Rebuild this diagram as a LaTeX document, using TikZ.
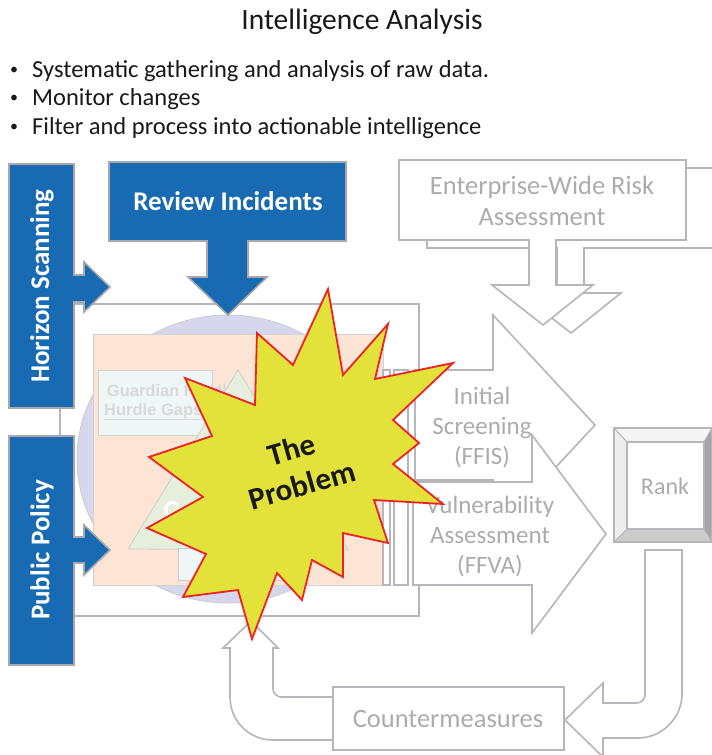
\documentclass[tikz,border=0pt]{standalone}
\usepackage{fontspec}
\setmainfont{Carlito}
\newfontfamily\arialf{Liberation Sans}
\definecolor{iblue}{RGB}{24,106,178}
\definecolor{bgray}{RGB}{168,168,172}
\definecolor{lgray}{RGB}{182,182,186}
\definecolor{tgray}{RGB}{172,172,176}
\definecolor{lav}{RGB}{214,215,236}
\definecolor{peach}{RGB}{253,229,214}
\definecolor{lcyan}{RGB}{238,246,246}
\definecolor{lgreen}{RGB}{230,239,220}
\definecolor{star}{RGB}{226,226,58}
\definecolor{sred}{RGB}{236,34,39}
\begin{document}
\begin{tikzpicture}[x=1pt,y=-1pt,line join=miter,
  graybox/.style={draw=lgray,line width=1.6pt,fill=white},
  bluebox/.style={draw=bgray,line width=1.6pt,fill=iblue},
  btext/.style={text=white,font=\bfseries\fontsize{27}{31}\selectfont},
  gtext/.style={text=tgray,font=\fontsize{26.5}{31}\selectfont,align=center},
  bullet/.style={anchor=west,font=\fontsize{24.5}{28}\selectfont,text=black!90,inner sep=0pt},
  bdot/.style={font=\fontsize{16}{18}\selectfont,text=black!90,inner sep=0pt}]
\useasboundingbox (0,0) rectangle (712,755);
\fill[white] (0,0) rectangle (712,755);

% title and bullets
\node[font=\fontsize{29.5}{33}\selectfont,text=black!90] (title) at (362,22) {Intelligence Analysis};
\node[bdot] (b1d) at (14,71) {•};
\node[bullet] (b1) at (32,71) {Systematic gathering and analysis of raw data.};
\node[bdot] (b2d) at (14,99) {•};
\node[bullet] (b2) at (32,99) {Monitor changes};
\node[bdot] (b3d) at (14,128) {•};
\node[bullet] (b3) at (32,128) {Filter and process into actionable intelligence};

% central frame
\draw[lgray,line width=1.6pt] (60,304) rectangle (419,616);
\draw[draw=lgray!70,fill=lav,line width=0.8pt] (228,459) ellipse [x radius=151,y radius=144];
\draw[draw=lgray!60,fill=peach,line width=0.8pt] (93,334) rectangle (383,585);
\draw[draw=lgray!60,fill=lcyan,line width=0.8pt] (98,370) rectangle (212,435);
\node[font=\arialf\bfseries\fontsize{16.5}{19}\selectfont,text=black!15,anchor=north west,align=left,inner sep=0pt] (guard) at (104,384) {\,Guardian Hurdle\\Hurdle Gaps};
\draw[lgray!50,line width=0.6pt] (104,419) -- (205,419);
\draw[draw=lgray!70,fill=lgreen,line width=0.8pt] (238,370) -- (348,550) -- (128,549) -- cycle;
\node[font=\arialf\bfseries\fontsize{24}{26}\selectfont,text=white] (cee) at (172,510) {C};
\draw[draw=lgray!70,fill=lcyan,line width=0.8pt] (178,548) rectangle (300,580);

% strips
\draw[graybox,line width=1.2pt] (383,370) rectangle (390,585);
\draw[graybox,line width=1.2pt] (394,370) rectangle (408,585);

% FFIS and FFVA arrows
\draw[graybox] (415,370) -- (493,370) -- (493,315) -- (595,425) -- (493,535) -- (493,480) -- (415,480) -- cycle;
\node[gtext,font=\fontsize{25}{30}\selectfont] (ffis) at (482,428) {Initial\\Screening\\(FFIS)};
\draw[graybox] (413,482) -- (532,482) -- (532,435) -- (606,534) -- (532,633) -- (532,585) -- (413,585) -- cycle;
\node[gtext,font=\fontsize{25}{30}\selectfont] (ffva) at (490,537) {Vulnerability\\Assessment\\(FFVA)};

% Enterprise-wide risk assessment
\begin{scope}[shift={(28,8)}]
\draw[graybox] (399,160) -- (686,160) -- (686,240) -- (556,240) -- (556,285) -- (593,285) -- (543,325) -- (492,285) -- (529,285) -- (529,240) -- (399,240) -- cycle;
\end{scope}
\draw[graybox] (399,160) -- (686,160) -- (686,240) -- (556,240) -- (556,285) -- (593,285) -- (543,325) -- (492,285) -- (529,285) -- (529,240) -- (399,240) -- cycle;
\node[gtext] (era) at (542,201) {Enterprise-Wide Risk\\Assessment};

% Rank
\fill[white!96!black] (614,428) -- (712,428) -- (704,442) -- (627,442) -- cycle;
\fill[white!93!black] (614,428) -- (627,442) -- (627,529) -- (614,542) -- cycle;
\fill[black!35] (712,428) -- (712,542) -- (704,529) -- (704,442) -- cycle;
\fill[black!20] (614,542) -- (712,542) -- (704,529) -- (627,529) -- cycle;
\draw[lgray,line width=1.4pt] (614,428) rectangle (712,542);
\draw[lgray,line width=1.2pt] (627,442) rectangle (704,529);
\draw[lgray,line width=1pt] (614,428) -- (627,442) (712,428) -- (704,442) (712,542) -- (704,529) (614,542) -- (627,529);
\node[gtext,font=\fontsize{24}{28}\selectfont] (rank) at (665,486) {Rank};

% Rank -> Countermeasures
\draw[graybox] (645,550) -- (682,550) -- (682,694) .. controls (682,718) and (662,738) .. (638,738) -- (603,738) -- (603,757) -- (565,720) -- (603,683) -- (603,703) -- (637,703) .. controls (641,703) and (645,699) .. (645,695) -- cycle;

% Countermeasures -> Problem
\draw[graybox] (335,697) -- (281,697) .. controls (277,697) and (273,693) .. (273,689) -- (273,648) -- (278,648) -- (251,621) -- (223,648) -- (230,648) -- (230,697) .. controls (230,721) and (249,740) .. (273,740) -- (335,740);
\draw[graybox] (333,687) rectangle (564,750);
\node[gtext] (cm) at (448,719) {Countermeasures};

% blue boxes
\draw[bluebox] (9,164) -- (74,164) -- (74,275) -- (84,275) -- (84,262) -- (110,287) -- (84,312) -- (84,302) -- (74,302) -- (74,408) -- (9,408) -- cycle;
\node[btext,rotate=90] (hs) at (42,286) {Horizon Scanning};
\draw[bluebox] (9,436) -- (74,436) -- (74,537) -- (84,537) -- (84,525) -- (110,550) -- (84,575) -- (84,563) -- (74,563) -- (74,665) -- (9,665) -- cycle;
\node[btext,rotate=90] (pp) at (42,550) {Public Policy};
\draw[bluebox] (109,162) -- (346,162) -- (346,241) -- (248,241) -- (248,277) -- (267,277) -- (228,315) -- (188,277) -- (207,277) -- (207,241) -- (109,241) -- cycle;
\node[btext] (ri) at (228,201) {Review Incidents};

% starburst
\draw[fill=star,draw=sred,line width=1.8pt] (328,289) -- (343,375) -- (388,324) -- (375,379) -- (453,363) -- (393,420) -- (419,443) -- (393,464) -- (443,504) -- (374,500) -- (388,543) -- (343,533) -- (343,577) -- (312,560) -- (302,600) -- (277,573) -- (252,639) -- (238,590) -- (183,597) -- (206,554) -- (147,528) -- (203,497) -- (149,457) -- (212,436) -- (185,378) -- (255,405) -- (257,333) -- (293,365) -- cycle;
\node[rotate=16,align=center,font=\bfseries\fontsize{31}{37}\selectfont,text=black!90] (prob) at (297,467) {The\\Problem};
\end{tikzpicture}
\end{document}
